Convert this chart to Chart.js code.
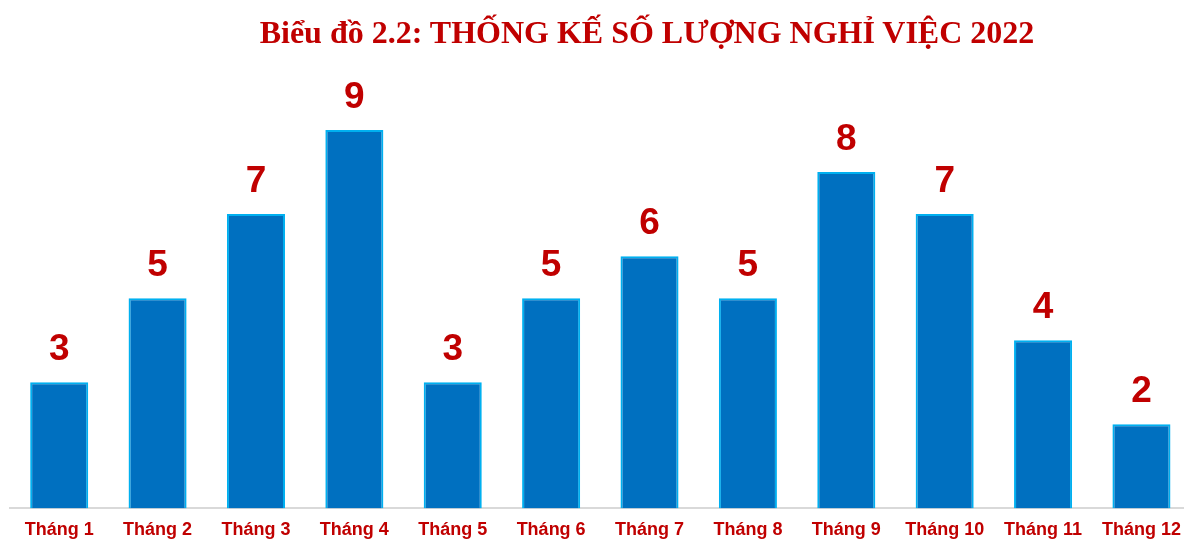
<!DOCTYPE html>
<html>
<head>
<meta charset="utf-8">
<script src="https://cdn.jsdelivr.net/npm/chart.js@4"></script>
<style>
  html, body { margin: 0; padding: 0; background: #fff; overflow: hidden; }
  #wrap { position: relative; width: 1184px; height: 540px; overflow: hidden; }
  #title {
    position: absolute; left: 647px; top: 13px; transform: translateX(-50%);
    white-space: nowrap; font-family: "Liberation Serif", "Times New Roman", serif;
    font-weight: bold; font-size: 32px; line-height: 38px; color: #C00000;
  }
  #myChart { position: absolute; left: 0; top: 0; }
</style>
</head>
<body>
<div id="wrap">
  <canvas id="myChart" width="1192" height="552"></canvas>
  <div id="title">Biểu đồ 2.2: THỐNG KẾ SỐ LƯỢNG NGHỈ VIỆC 2022</div>
</div>
<script>
var months = ['Tháng 1', 'Tháng 2', 'Tháng 3', 'Tháng 4', 'Tháng 5', 'Tháng 6',
              'Tháng 7', 'Tháng 8', 'Tháng 9', 'Tháng 10', 'Tháng 11', 'Tháng 12'];
var quitCounts = [3, 5, 7, 9, 3, 5, 6, 5, 8, 7, 4, 2];

// draw the value above every bar
var valueLabels = {
    id: 'valueLabels',
    afterDatasetsDraw: function (chart) {
        var ctx = chart.ctx;
        var meta = chart.getDatasetMeta(0);
        ctx.save();
        ctx.fillStyle = '#C00000';
        ctx.font = 'bold 37px "Liberation Sans", Arial, sans-serif';
        ctx.textAlign = 'center';
        ctx.textBaseline = 'alphabetic';
        meta.data.forEach(function (bar, i) {
            ctx.fillText(chart.data.datasets[0].data[i], bar.x, bar.y - 22);
        });
        ctx.restore();
    }
};

var ctx = document.getElementById('myChart').getContext('2d');
var myChart = new Chart(ctx, {
    type: 'bar',
    data: {
        labels: months,
        datasets: [{
            label: 'Nghỉ việc',
            data: quitCounts,
            backgroundColor: '#0070C0',
            borderColor: '#00B0F0',
            borderWidth: 2,
            barPercentage: 0.59,
            categoryPercentage: 1
        }]
    },
    options: {
        responsive: false,
        animation: false,
        layout: { padding: { top: 88, left: 10, right: 1, bottom: 0 } },
        plugins: {
            legend: { display: false },
            tooltip: { enabled: false }
        },
        scales: {
            x: {
                grid: { display: false, drawTicks: false },
                border: { display: true, color: '#D9D9D9', width: 2 },
                ticks: {
                    color: '#C00000',
                    padding: 11,
                    font: { family: '"Liberation Sans", Arial, sans-serif', size: 18, weight: 'bold' },
                    maxRotation: 0,
                    autoSkip: false
                }
            },
            y: {
                display: false,
                min: 0,
                max: 10
            }
        }
    },
    plugins: [valueLabels]
});
</script>
</body>
</html>
